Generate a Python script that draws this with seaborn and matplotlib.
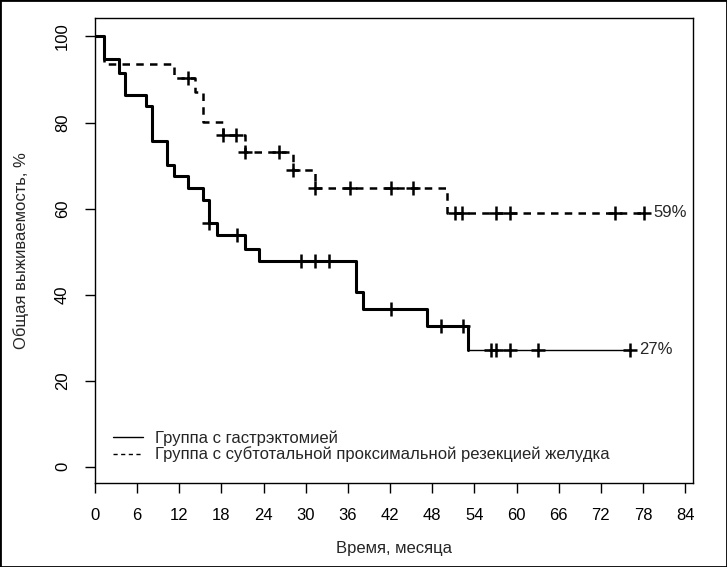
import numpy as np
import pandas as pd
import matplotlib
matplotlib.use("Agg")
import matplotlib.pyplot as plt
from matplotlib.lines import Line2D
from matplotlib.patches import Rectangle
import seaborn as sns

# Kaplan-Meier steps (months, % survival)
gastr_times = [0, 1.3, 3.4, 4.2, 7.3, 8.1, 10.3, 11.3, 13.3, 15.3, 16.2, 17.3,
               21.3, 23.3, 37.2, 38.2, 47.2, 53.1]
gastr_surv = [100, 94.7, 91.6, 86.4, 83.8, 75.7, 70.1, 67.6, 64.8, 62.1, 56.6,
              53.8, 50.7, 47.9, 40.5, 36.7, 32.6, 27.2]
gastr_censor = [16.2, 20.2, 29.3, 31.3, 33.3, 42.1, 49.2, 52.3, 56.4, 57.0,
                59.1, 63.1, 76.2]

subtot_times = [0, 1.3, 11.3, 14.2, 15.3, 18.2, 21.3, 28.2, 31.3, 50.1]
subtot_surv = [100, 93.7, 90.3, 87.1, 80.2, 77.1, 73.2, 69.0, 64.8, 59.0]
subtot_censor = [13.3, 18.2, 20.1, 21.3, 26.2, 28.2, 31.3, 36.3, 42.1, 45.2,
                 51.2, 52.2, 57.0, 59.1, 74.0, 78.1]

labels = ["Группа с гастрэктомией",
          "Группа с субтотальной проксимальной резекцией желудка"]
x_ticks = list(range(0, 85, 6))
y_ticks = [0, 20, 40, 60, 80, 100]


def km_frame(times, surv, censor):
    """Step curve points, extended to the last censored case."""
    t = list(times) + [max(censor)]
    s = list(surv) + [surv[-1]]
    return pd.DataFrame({"t": t, "s": s})


def censor_frame(times, surv, censor):
    idx = np.searchsorted(times, censor, side="right") - 1
    return pd.DataFrame({"t": censor, "s": np.array(surv)[idx]})


sns.set_style("white")
plt.rcParams["font.family"] = ["Liberation Sans", "DejaVu Sans"]

fig = plt.figure(figsize=(7.27, 5.67), dpi=100)
ax = fig.add_axes([0.1307, 0.1481, 0.8225, 0.8202])

g_df = km_frame(gastr_times, gastr_surv, gastr_censor)
s_df = km_frame(subtot_times, subtot_surv, subtot_censor)

# gastrectomy curve: thick part, then thin tail after the last event
sns.lineplot(data=g_df, x="t", y="s", drawstyle="steps-post", sort=False,
             estimator=None, color="black", lw=1.0, ax=ax)
sns.lineplot(data=g_df.iloc[:-1], x="t", y="s", drawstyle="steps-post",
             sort=False, estimator=None, color="black", lw=2.2, ax=ax)
sns.lineplot(data=s_df, x="t", y="s", drawstyle="steps-post", sort=False,
             estimator=None, color="black", lw=1.8, ax=ax,
             linestyle=(0, (3, 2.5)))

# censoring marks
for times, surv, censor in [(gastr_times, gastr_surv, gastr_censor),
                            (subtot_times, subtot_surv, subtot_censor)]:
    cdf = censor_frame(times, surv, censor)
    sns.scatterplot(data=cdf, x="t", y="s", marker="+", s=90, color="black",
                    linewidth=1.8, ax=ax, zorder=3)

# final survival labels
ax.text(max(gastr_censor) + 1.3, gastr_surv[-1], f"{round(gastr_surv[-1])}%",
        va="center", ha="left", fontsize=12)
ax.text(max(subtot_censor) + 1.3, subtot_surv[-1], f"{round(subtot_surv[-1])}%",
        va="center", ha="left", fontsize=12)

ax.set_xlim(0, 85.1)
ax.set_ylim(-3.8, 104.3)
ax.set_xticks(x_ticks)
ax.set_yticks(y_ticks)
ax.tick_params(axis="both", direction="out", length=7, width=1,
               labelsize=12, pad=11, left=True, bottom=True, colors="black")
for lab in ax.get_yticklabels():
    lab.set_rotation(90)
    lab.set_va("center")

for sp in ax.spines.values():
    sp.set_visible(True)
    sp.set_color("black")
    sp.set_linewidth(1.0)

ax.set_xlabel("Время, месяца", fontsize=12, labelpad=13)
ax.set_ylabel("Общая выживаемость, %", fontsize=12, labelpad=19)

handles = [Line2D([], [], color="black", lw=1.0),
           Line2D([], [], color="black", lw=1.0, linestyle=(0, (3, 2.5)))]
ax.legend(handles, labels, loc="lower left", bbox_to_anchor=(0.005, 0.012),
          frameon=False, fontsize=12, handlelength=1.8, handletextpad=0.7,
          labelspacing=0.05)

fig.patches.append(Rectangle((0, 0), 1, 1, transform=fig.transFigure,
                             fill=False, lw=2, edgecolor="black"))

fig.savefig("out.png", dpi=100)
